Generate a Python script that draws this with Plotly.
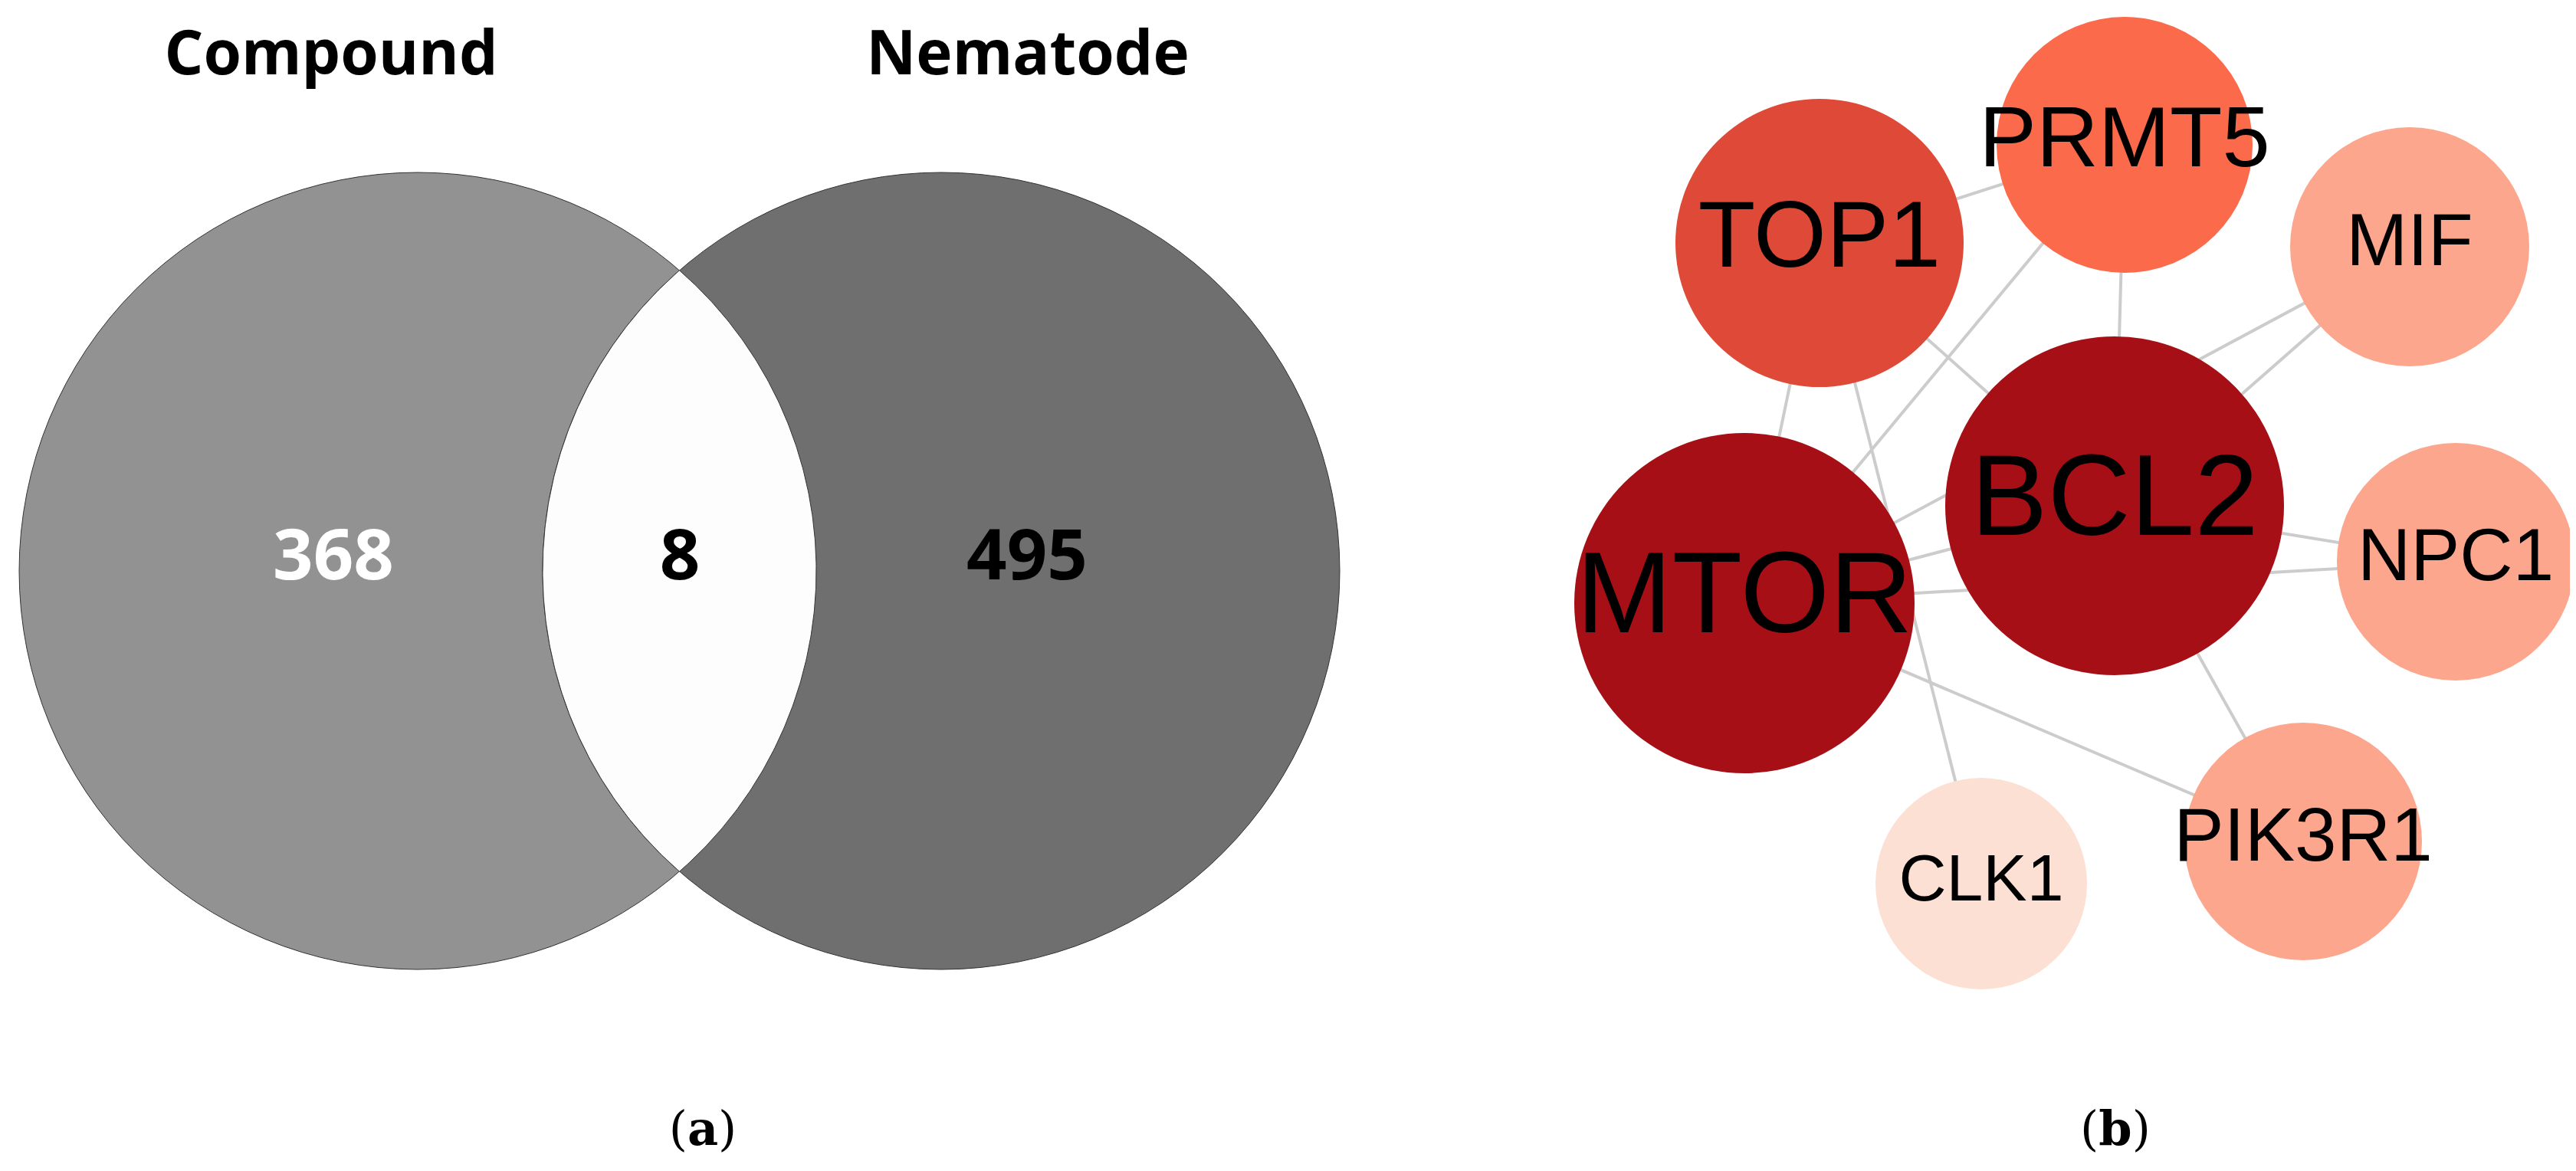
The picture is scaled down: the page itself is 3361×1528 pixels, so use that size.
import numpy as np
import plotly.graph_objects as go

W, H = 3361, 1528

# (a) Venn diagram
set_names = ["Compound", "Nematode"]
set_only = [368, 495]
shared = 8
venn_cx = [537, 1220]
venn_cy = 737
venn_r = 520
venn_fill = ["#929292", "#6f6f6f"]

# (b) PPI network
genes = ["BCL2", "MTOR", "TOP1", "PRMT5", "MIF", "NPC1", "PIK3R1", "CLK1"]
node_x = [2751, 2268, 2366, 2764, 3136, 3196, 2997, 2577]
node_y = [652, 779, 309, 181, 314, 725, 1090, 1145]
node_r = [221, 222, 188, 167, 156, 155, 155, 138]
node_color = ["#a50f15", "#a50f15", "#de4a37", "#fb6a4a",
              "#fca68d", "#fca68d", "#fca68d", "#fde0d4"]
label_size = [150, 150, 122, 112, 96, 96, 98, 86]
edges = [("TOP1", "PRMT5"), ("TOP1", "MTOR"), ("TOP1", "BCL2"), ("TOP1", "CLK1"),
         ("PRMT5", "BCL2"), ("PRMT5", "MTOR"), ("MIF", "BCL2"), ("MIF", "MTOR"),
         ("NPC1", "BCL2"), ("NPC1", "MTOR"), ("MTOR", "BCL2"), ("MTOR", "PIK3R1"),
         ("BCL2", "PIK3R1")]

fig = go.Figure()

# venn circles
for cx, col in zip(venn_cx, venn_fill):
    fig.add_shape(type="circle", x0=cx - venn_r, x1=cx + venn_r,
                  y0=venn_cy - venn_r, y1=venn_cy + venn_r,
                  fillcolor=col, line=dict(color="#333333", width=1), layer="below")

# white lens where the two sets overlap
d = venn_cx[1] - venn_cx[0]
half = np.arccos((d / 2) / venn_r)
t1 = np.linspace(-half, half, 200)
t2 = np.linspace(np.pi - half, np.pi + half, 200)
lx = np.concatenate([venn_cx[0] + venn_r * np.cos(t1), venn_cx[1] + venn_r * np.cos(t2)])
ly = np.concatenate([venn_cy + venn_r * np.sin(t1), venn_cy - venn_r * np.sin(t2 - np.pi)])
fig.add_trace(go.Scatter(x=lx, y=ly, fill="toself", fillcolor="#fdfdfd", mode="lines",
                         line=dict(color="#333333", width=1), hoverinfo="skip"))

fig.add_trace(go.Scatter(
    x=[424, 1333], y=[69, 69], mode="text", text=set_names,
    textfont=dict(family="Open Sans", size=80, color="black", weight="bold"),
    hoverinfo="skip"))
fig.add_trace(go.Scatter(
    x=[427, 879, 1332], y=[725, 725, 725], mode="text",
    text=[str(set_only[0]), str(shared), str(set_only[1])],
    textfont=dict(family="Open Sans", size=92, color=["white", "black", "black"], weight="bold"),
    hoverinfo="skip"))

# network edges
idx = {g: i for i, g in enumerate(genes)}
ex, ey = [], []
for a, b in edges:
    ex += [node_x[idx[a]], node_x[idx[b]], None]
    ey += [node_y[idx[a]], node_y[idx[b]], None]
fig.add_trace(go.Scatter(x=ex, y=ey, mode="lines", line=dict(color="#cccccc", width=4),
                         hoverinfo="skip"))

# nodes (smallest drawn last so larger ones don't hide them wrongly)
fig.add_trace(go.Scatter(
    x=node_x, y=node_y, mode="markers",
    marker=dict(size=[2 * r for r in node_r], sizemode="diameter", color=node_color,
                line=dict(width=0), opacity=1),
    hoverinfo="skip"))
fig.add_trace(go.Scatter(
    x=node_x, y=node_y, mode="text", text=genes,
    textfont=dict(family="Liberation Sans", size=label_size, color="black"),
    hoverinfo="skip"))

# panel tags
fig.add_trace(go.Scatter(
    x=[909, 2752], y=[1470, 1470], mode="text",
    text=["(<b>a</b>)", "(<b>b</b>)"],
    textfont=dict(family="DejaVu Serif", size=62, color="black"),
    hoverinfo="skip"))

fig.update_layout(
    width=W, height=H, margin=dict(l=0, r=0, t=0, b=0),
    paper_bgcolor="white", plot_bgcolor="white", showlegend=False,
    xaxis=dict(range=[0, W], visible=False, fixedrange=True),
    yaxis=dict(range=[H, 0], visible=False, fixedrange=True),
)
fig.write_html("out.html")
